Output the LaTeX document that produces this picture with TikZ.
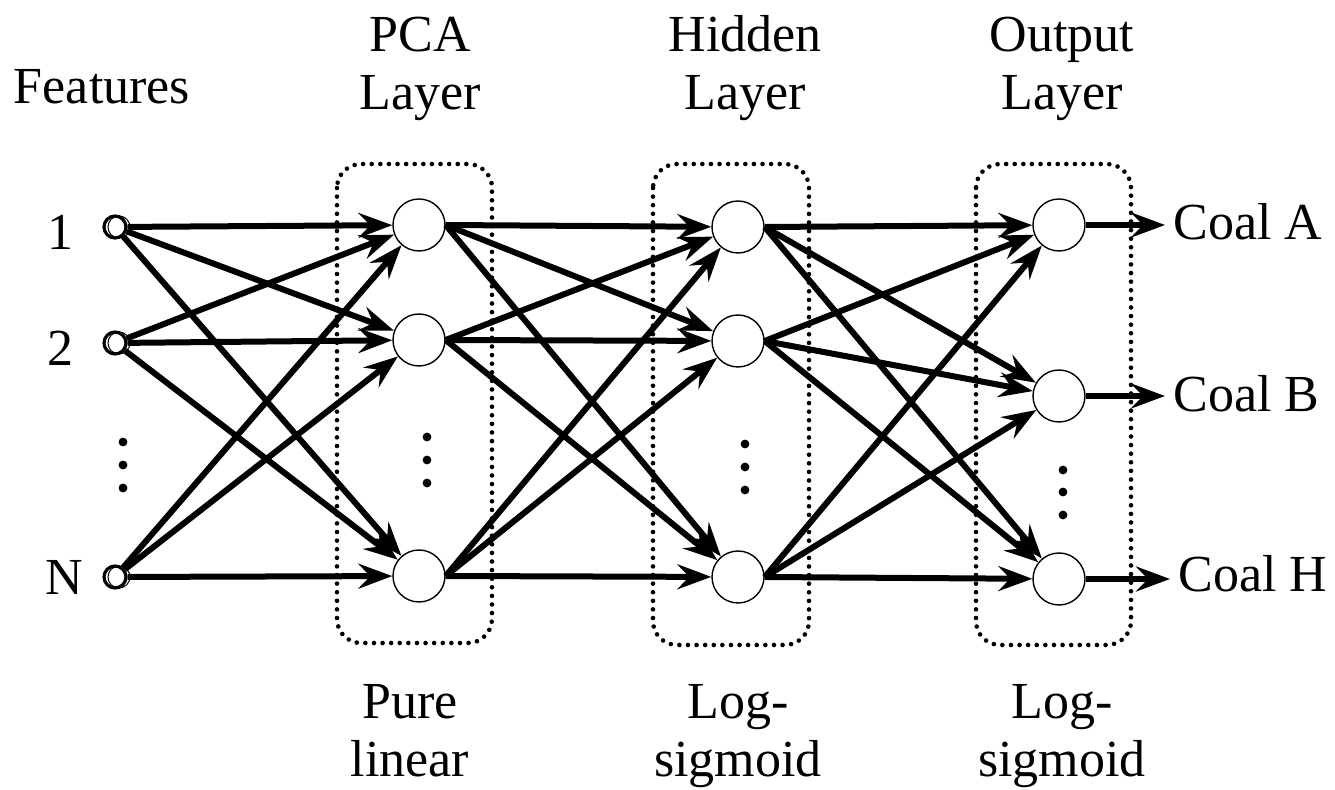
\documentclass[tikz,border=0pt]{standalone}
\usepackage{fontspec}
\setmainfont{Liberation Serif}
\usetikzlibrary{arrows.meta}
\tikzset{
  neuron/.style={circle, draw, line width=0.7pt, minimum size=26pt, inner sep=0pt, fill=white},
  inp/.style={circle, draw, line width=1.6pt, minimum size=11pt, inner sep=0pt},
  conn/.style={line width=3pt, -{Stealth[length=17pt, width=12.5pt, inset=6pt]}},
  layerbox/.style={line width=2.3pt, dash pattern=on 0pt off 4.3pt, line cap=round, rounded corners=12pt},
  lbl/.style={font=\fontsize{26}{29}\selectfont, inner sep=0pt, align=center},
  vdot/.style={circle, fill, inner sep=0pt, minimum size=4.4pt},
}
\begin{document}
\begin{tikzpicture}[x=0.5pt, y=-0.5pt]
\useasboundingbox (0,0) rectangle (1335,790);
% layer boxes
\draw[layerbox] (337,164) rectangle (492,643);
\draw[layerbox] (653,164) rectangle (809,645);
\draw[layerbox] (976,164) rectangle (1131,645);
% input nodes
\node[inp] (i1) at (115,227) {};
\node[inp] (i2) at (115,343) {};
\node[inp] (i3) at (115,577) {};
\foreach \y in {227,343,577} \draw[line width=0.5pt] (119,\y) circle (11);
% PCA
\node[neuron] (p1) at (419,225) {};
\node[neuron] (p2) at (419,340) {};
\node[neuron] (p3) at (419,576) {};
% hidden
\node[neuron] (h1) at (738,227) {};
\node[neuron] (h2) at (738,341) {};
\node[neuron] (h3) at (738,577) {};
% output
\node[neuron] (o1) at (1059,225) {};
\node[neuron] (o2) at (1059,396) {};
\node[neuron] (o3) at (1059,579) {};
% dots
\foreach \x/\a/\b/\c in {123/442/465/488, 427/437/460/483, 745/444/467/490, 1063/470/492/515}{
  \node[vdot] at (\x,\a) {};
  \node[vdot] at (\x,\b) {};
  \node[vdot] at (\x,\c) {};
}
% connections
\foreach \s in {i1,i2,i3}
  \foreach \t in {p1,p2,p3}
    \draw[conn] (\s) -- (\t);
\foreach \s in {p1,p2,p3}
  \foreach \t in {h1,h2,h3}
    \draw[conn] (\s.east) -- (\t);
\foreach \s in {h1,h2,h3}
  \foreach \t in {o1,o2,o3}
    \draw[conn] (\s.east) -- (\t);
% labels
\node[lbl, anchor=base] (feat) at (102,104) {Features};
\node[lbl, anchor=base] (lpca) at (420,110) {PCA\\Layer};
\node[lbl, anchor=base] (lhid) at (745,110) {Hidden\\Layer};
\node[lbl, anchor=base] (lout) at (1062,110) {Output\\Layer};
\node[lbl, anchor=base] (bpca) at (410,777) {Pure\\linear};
\node[lbl, anchor=base] (bhid) at (738,777) {Log-\\sigmoid};
\node[lbl, anchor=base] (bout) at (1062,777) {Log-\\sigmoid};
\node[lbl, anchor=base] (n1) at (60,250) {1};
\node[lbl, anchor=base] (n2) at (60,366) {2};
\node[lbl, anchor=base] (n3) at (64,595) {N};
\node[lbl, anchor=base west] (cA) at (1173,240) {Coal A};
\node[lbl, anchor=base west] (cB) at (1173,412) {Coal B};
\node[lbl, anchor=base west] (cH) at (1178,592) {Coal H};
\draw[conn, shorten >=4pt] (o1.east) -- (o1.east -| cA.west);
\draw[conn, shorten >=4pt] (o2.east) -- (o2.east -| cB.west);
\draw[conn, shorten >=4pt] (o3.east) -- (o3.east -| cH.west);
\end{tikzpicture}
\end{document}
